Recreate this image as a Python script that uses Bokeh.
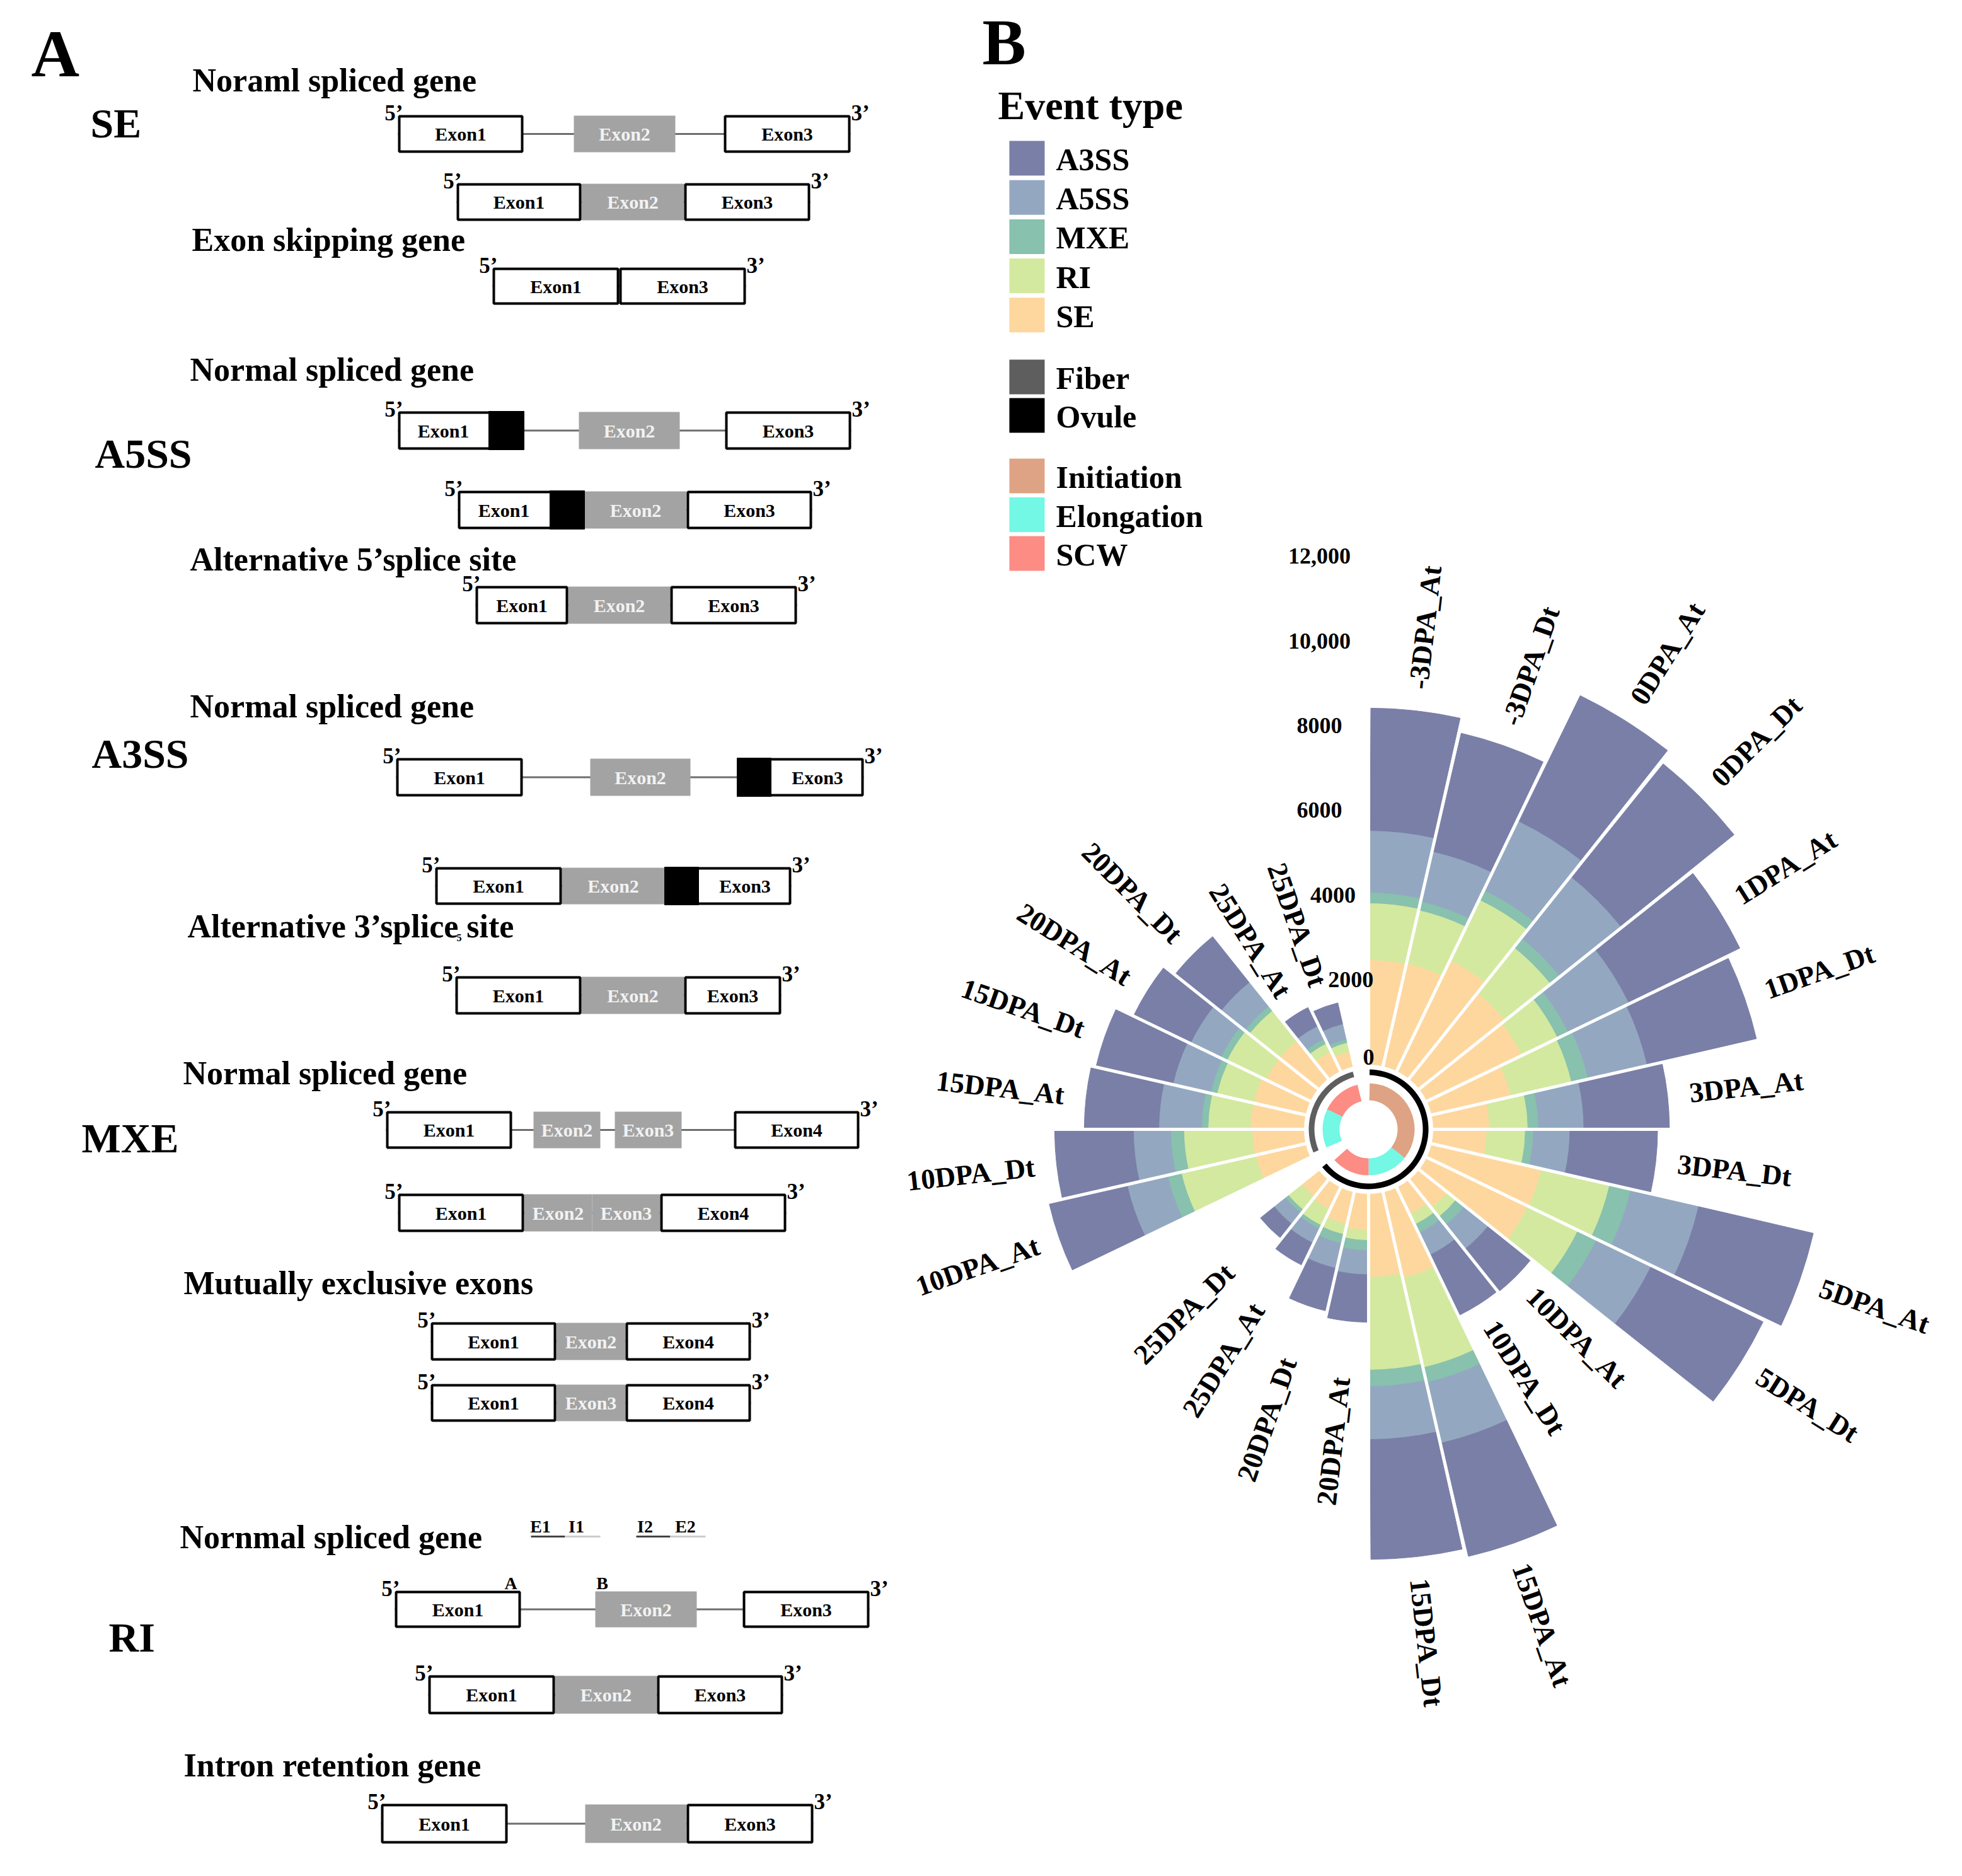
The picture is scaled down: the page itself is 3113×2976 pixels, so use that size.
import math
from bokeh.plotting import figure
from bokeh.models import Range1d
from bokeh.embed import file_html
from bokeh.resources import INLINE
from bokeh.core.properties import value

# ================= Panel B data =================
ovule_samples = ["-3DPA_At", "-3DPA_Dt", "0DPA_At", "0DPA_Dt", "1DPA_At", "1DPA_Dt",
                 "3DPA_At", "3DPA_Dt", "5DPA_At", "5DPA_Dt", "10DPA_At", "10DPA_Dt",
                 "15DPA_At", "15DPA_Dt", "20DPA_At", "20DPA_Dt", "25DPA_At", "25DPA_Dt"]
fiber_samples = ["10DPA_At", "10DPA_Dt", "15DPA_At", "15DPA_Dt",
                 "20DPA_At", "20DPA_Dt", "25DPA_At", "25DPA_Dt"]

se_ovule = [2470, 2490, 2900, 2590, 2490, 1920, 1320, 1260, 2660, 2650, 850, 700, 2070, 1960, 850, 770, 570, 510]
ri_ovule = [1340, 1290, 1590, 1380, 940, 1470, 910, 910, 1650, 1310, 270, 270, 2170, 2190, 240, 250, 430, 410]
mxe_ovule = [250, 210, 250, 280, 280, 400, 250, 190, 510, 490, 250, 220, 360, 390, 240, 220, 90, 90]
a5ss_ovule = [1460, 1210, 1820, 1860, 1590, 1430, 1070, 860, 1650, 1430, 730, 580, 1470, 1250, 570, 600, 370, 340]
a3ss_ovule = [2890, 2870, 3300, 3440, 2920, 2650, 2020, 2070, 2780, 2950, 1280, 1580, 2750, 2830, 1120, 1030, 580, 420]

se_fiber = [1210, 1220, 1260, 1260, 1160, 1160, 510, 360]
ri_fiber = [1800, 1610, 1000, 890, 1030, 920, 220, 220]
mxe_fiber = [330, 310, 150, 150, 160, 130, 120, 80]
a5ss_fiber = [980, 880, 1010, 910, 790, 730, 340, 370]
a3ss_fiber = [1890, 1860, 1760, 1860, 1490, 1380, 490, 510]

radial_ticks = [0, 2000, 4000, 6000, 8000, 10000, 12000]
radial_tick_labels = ["0", "2000", "4000", "6000", "8000", "10,000", "12,000"]

event_types = ["A3SS", "A5SS", "MXE", "RI", "SE"]
tissues = ["Fiber", "Ovule"]
stages = ["Initiation", "Elongation", "SCW"]
stage_dpa = {"Initiation": ["-3", "0", "1", "3", "5"], "Elongation": ["10", "15"], "SCW": ["20", "25"]}

# ================= Panel A content (schematic) =================
left_labels = [("SE", 151, 222), ("A5SS", 158, 746), ("A3SS", 153, 1222), ("MXE", 137, 1832), ("RI", 180, 2624)]
headings = [("Noraml spliced gene", 313, 150), ("Exon skipping gene", 312, 403),
            ("Normal spliced gene", 309, 609), ("Alternative 5\u2019splice site", 309, 910),
            ("Normal spliced gene", 309, 1143), ("Alternative 3\u2019splice site", 305, 1492),
            ("Normal spliced gene", 298, 1725), ("Mutually exclusive exons", 299, 2058),
            ("Nornmal spliced gene", 293, 2461), ("Intron retention gene", 299, 2823)]
# rows: (top, bottom, [(x0, x1, kind, label, optional black block)])
gene_rows = [
    (190, 250, [(639, 838, "w", "Exon1"), (918, 1079, "g", "Exon2"), (1156, 1357, "w", "Exon3")]),
    (298, 358, [(732, 930, "w", "Exon1"), (930, 1093, "g", "Exon2"), (1093, 1293, "w", "Exon3")]),
    (432, 491, [(789, 990, "w", "Exon1"), (990, 1191, "w", "Exon3")]),
    (660, 721, [(639, 839, "w", "Exon1", (783, 839)), (926, 1086, "g", "Exon2"), (1158, 1358, "w", "Exon3")]),
    (786, 847, [(734, 935, "w", "Exon1", (880, 935)), (935, 1097, "g", "Exon2"), (1097, 1296, "w", "Exon3")]),
    (937, 998, [(762, 909, "w", "Exon1"), (909, 1071, "g", "Exon2"), (1071, 1272, "w", "Exon3")]),
    (1210, 1271, [(636, 837, "w", "Exon1"), (944, 1103, "g", "Exon2"), (1177, 1378, "w", "Exon3", (1177, 1231))]),
    (1383, 1443, [(698, 899, "w", "Exon1"), (899, 1062, "g", "Exon2"), (1062, 1263, "w", "Exon3", (1062, 1116))]),
    (1556, 1617, [(730, 930, "w", "Exon1"), (930, 1093, "g", "Exon2"), (1093, 1247, "w", "Exon3")]),
    (1770, 1830, [(620, 820, "w", "Exon1"), (854, 960, "g", "Exon2"), (983, 1089, "g", "Exon3"), (1172, 1371, "w", "Exon4")]),
    (1901, 1962, [(639, 839, "w", "Exon1"), (839, 947, "g", "Exon2"), (947, 1055, "g", "Exon3"), (1055, 1255, "w", "Exon4")]),
    (2105, 2166, [(691, 890, "w", "Exon1"), (890, 1000, "g", "Exon2"), (1000, 1199, "w", "Exon4")]),
    (2203, 2263, [(691, 890, "w", "Exon1"), (890, 1000, "g", "Exon3"), (1000, 1199, "w", "Exon4")]),
    (2531, 2590, [(634, 834, "w", "Exon1"), (952, 1113, "g", "Exon2"), (1186, 1387, "w", "Exon3")]),
    (2665, 2727, [(687, 888, "w", "Exon1"), (888, 1050, "g", "Exon2"), (1050, 1250, "w", "Exon3")]),
    (2869, 2932, [(612, 813, "w", "Exon1"), (936, 1097, "g", "Exon2"), (1097, 1298, "w", "Exon3")]),
]

# ================= figure =================
H = 2976
FONT = value("Liberation Serif")


def Yd(y):
    return H - y


p = figure(width=3097, height=2960, x_range=Range1d(8, 3105), y_range=Range1d(8, 2968),
           output_backend="svg", toolbar_location=None, min_border=0,
           x_axis_location=None, y_axis_location=None)
p.grid.visible = False
p.outline_line_color = None
p.background_fill_color = "white"


def txt(xs, ys, texts, size, align="left", baseline="alphabetic", color="black", angles=None, bold=True):
    if angles is None:
        angles = [0] * len(xs)
    if baseline == "alphabetic":
        ys = [y + 0.29 * size for y in ys]
        baseline = "middle"
    p.text(x=xs, y=ys, text=texts, angle=angles, text_font=FONT, text_font_size=f"{size}px",
           text_font_style="bold" if bold else "normal", text_align=align,
           text_baseline=baseline, text_color=color)


# ---------------- Panel A ----------------
txt([57], [Yd(124)], ["A"], 106)
txt([l[1] for l in left_labels], [Yd(l[2]) for l in left_labels], [l[0] for l in left_labels], 66)
txt([h[1] for h in headings], [Yd(h[2]) for h in headings], [h[0] for h in headings], 52)
txt([732], [Yd(1500)], ["5"], 16)

GRAY = "#a3a3a3"
lx0, lx1, ly = [], [], []
gq = dict(l=[], r=[], t=[], b=[])
wq = dict(l=[], r=[], t=[], b=[])
kq = dict(l=[], r=[], t=[], b=[])
tb = dict(x=[], y=[], t=[])
tw = dict(x=[], y=[], t=[])
p5 = dict(x=[], y=[])
p3 = dict(x=[], y=[])
for (yt, yb, segs) in gene_rows:
    ym = (yt + yb) / 2
    lx0.append(segs[0][0]); lx1.append(segs[-1][1]); ly.append(Yd(ym))
    for seg in segs:
        x0, x1, kind, label = seg[:4]
        if kind == "g":
            gq["l"].append(x0); gq["r"].append(x1); gq["t"].append(Yd(yt + 1)); gq["b"].append(Yd(yb - 1))
            tw["x"].append((x0 + x1) / 2); tw["y"].append(Yd(ym)); tw["t"].append(label)
        else:
            wq["l"].append(x0 + 2); wq["r"].append(x1 - 2); wq["t"].append(Yd(yt + 2)); wq["b"].append(Yd(yb - 2))
            cx0, cx1 = x0, x1
            if len(seg) > 4:
                k0, k1 = seg[4]
                kq["l"].append(k0); kq["r"].append(k1); kq["t"].append(Yd(yt)); kq["b"].append(Yd(yb))
                if k0 <= x0 + 5:
                    cx0 = k1
                else:
                    cx1 = k0
            tb["x"].append((cx0 + cx1) / 2); tb["y"].append(Yd(ym)); tb["t"].append(label)
    p5["x"].append(segs[0][0] + 8); p5["y"].append(Yd(yt + 7))
    p3["x"].append(segs[-1][1] + 1); p3["y"].append(Yd(yt + 7))

p.segment(x0=lx0, y0=ly, x1=lx1, y1=ly, line_color="#6e6e6e", line_width=3)
p.quad(left=gq["l"], right=gq["r"], top=gq["t"], bottom=gq["b"], fill_color=GRAY, line_color=None)
p.quad(left=wq["l"], right=wq["r"], top=wq["t"], bottom=wq["b"], fill_color="white", line_color="black", line_width=4)
p.quad(left=kq["l"], right=kq["r"], top=kq["t"], bottom=kq["b"], fill_color="black", line_color="black", line_width=1)
txt(tb["x"], tb["y"], tb["t"], 30, align="center", baseline="middle")
txt(tw["x"], tw["y"], tw["t"], 30, align="center", baseline="middle", color="#f2f2f2")
txt(p5["x"], p5["y"], ["5\u2019"] * len(p5["x"]), 35, align="right")
txt(p3["x"], p3["y"], ["3\u2019"] * len(p3["x"]), 35, align="left")

# RI extra annotations
txt([818, 963], [Yd(2527), Yd(2527)], ["A", "B"], 28, align="center")
txt([865, 922, 1031, 1095], [Yd(2437)] * 4, ["E1", "I1", "I2", "E2"], 28, align="center")
p.segment(x0=[850, 1017], y0=[Yd(2445)] * 2, x1=[904, 1071], y1=[Yd(2445)] * 2, line_color="#444444", line_width=3)
p.segment(x0=[904, 1071], y0=[Yd(2445)] * 2, x1=[960, 1127], y1=[Yd(2445)] * 2, line_color="#cccccc", line_width=3)

# ---------------- Panel B ----------------
txt([1566], [Yd(104)], ["B"], 104)
txt([1591], [Yd(194)], ["Event type"], 64)

type_colors = {"A3SS": "#7a7fa7", "A5SS": "#93a8c0", "MXE": "#88c1ad", "RI": "#d3e9a0", "SE": "#fed79e"}
tissue_colors = {"Fiber": "#5e5e5e", "Ovule": "#000000"}
stage_colors = {"Initiation": "#dea384", "Elongation": "#72f8e5", "SCW": "#fc8c84"}

leg_items = ([(t, type_colors[t], 231 + 62.2 * i) for i, t in enumerate(event_types)] +
             [(t, tissue_colors[t], 578 + 61 * i) for i, t in enumerate(tissues)] +
             [(t, stage_colors[t], 735 + 61.5 * i) for i, t in enumerate(stages)])
p.quad(left=[1609] * len(leg_items), right=[1665] * len(leg_items),
       top=[Yd(it[2]) for it in leg_items], bottom=[Yd(it[2] + 55) for it in leg_items],
       fill_color=[it[1] for it in leg_items], line_color=None)
txt([1683] * len(leg_items), [Yd(it[2] + 44) for it in leg_items], [it[0] for it in leg_items], 50)

# radial bar chart
CX, CY = 2179, 1799
CYD = Yd(CY)
R0, K = 103, 0.0672
N_SLOTS = 28
W = 360.0 / N_SLOTS
PAD = 0.3

samples = ovule_samples + fiber_samples
tissue_of = ["Ovule"] * len(ovule_samples) + ["Fiber"] * len(fiber_samples)
stack_order = ["SE", "RI", "MXE", "A5SS", "A3SS"]
stack = {"SE": se_ovule + se_fiber, "RI": ri_ovule + ri_fiber, "MXE": mxe_ovule + mxe_fiber,
         "A5SS": a5ss_ovule + a5ss_fiber, "A3SS": a3ss_ovule + a3ss_fiber}
slots = list(range(len(ovule_samples))) + [len(ovule_samples) + 1 + i for i in range(len(fiber_samples))]


def rad(v):
    return R0 + K * v


wx, wy, wri, wro, wsa, wea, wc = [], [], [], [], [], [], []
tops = []
for i, s in enumerate(slots):
    cum = 0
    b1 = s * W + PAD
    b2 = (s + 1) * W - PAD
    for t in stack_order:
        v = stack[t][i]
        wri.append(rad(cum))
        cum += v
        wro.append(rad(cum))
        wsa.append(math.radians(90 - b2)); wea.append(math.radians(90 - b1))
        wc.append(type_colors[t]); wx.append(CX); wy.append(CYD)
    tops.append(rad(cum))
p.annular_wedge(x=wx, y=wy, inner_radius=wri, outer_radius=wro, start_angle=wsa, end_angle=wea,
                fill_color=wc, line_color=wc, line_width=1)

# white separators between slots
slot_top = {s: tops[i] for i, s in enumerate(slots)}
sx0, sy0, sx1, sy1 = [], [], [], []
for k in range(N_SLOTS):
    rmax = max(slot_top.get(k, 0), slot_top.get((k - 1) % N_SLOTS, 0))
    if rmax == 0:
        continue
    b = math.radians(k * W)
    sx0.append(CX + 99 * math.sin(b)); sy0.append(CYD + 99 * math.cos(b))
    sx1.append(CX + (rmax + 15) * math.sin(b)); sy1.append(CYD + (rmax + 15) * math.cos(b))
p.segment(x0=sx0, y0=sy0, x1=sx1, y1=sy1, line_color="white", line_width=5)

# inner rings: tissue arcs and stage ring
ax, ay, ari, aro, asa, aea, ac = [], [], [], [], [], [], []


def arc(b1, b2, r1, r2, color):
    ax.append(CX); ay.append(CYD); ari.append(r1); aro.append(r2)
    asa.append(math.radians(90 - b2)); aea.append(math.radians(90 - b1)); ac.append(color)


def stage_of(name):
    d = name.split("DPA")[0]
    for st in stages:
        if d in stage_dpa[st]:
            return st


tissue_pad = {"Ovule": (1.0, 0.6), "Fiber": (3.0, 2.5)}
ring_pad = {"Ovule": (1.4, 3.4), "Fiber": (2.5, 1.2)}
for tis in ["Ovule", "Fiber"]:
    idx = [i for i in range(len(samples)) if tissue_of[i] == tis]
    s_first, s_last = slots[idx[0]], slots[idx[-1]]
    arc(s_first * W + tissue_pad[tis][0], (s_last + 1) * W - tissue_pad[tis][1], 86, 95, tissue_colors[tis])
    runs = []
    for i in idx:
        st = stage_of(samples[i])
        if runs and runs[-1][0] == st:
            runs[-1][2] = slots[i]
        else:
            runs.append([st, slots[i], slots[i]])
    for j, (st, a, b) in enumerate(runs):
        b1 = a * W + (ring_pad[tis][0] if j == 0 else 0)
        b2 = (b + 1) * W - (ring_pad[tis][1] if j == len(runs) - 1 else 0)
        arc(b1, b2, 46, 73, stage_colors[st])
p.annular_wedge(x=ax, y=ay, inner_radius=ari, outer_radius=aro, start_angle=asa, end_angle=aea,
                fill_color=ac, line_color=None)

# radial tick labels
tkx, tky = [], []
for v in radial_ticks:
    r = rad(v)
    off = min(78, 0.21 * (r - R0))
    tkx.append(CX - off)
    tky.append(CYD + max(r, 115))
txt(tkx, tky, radial_tick_labels, 36, align="center", baseline="middle")

# category labels
rx, ry, rt, ra = [], [], [], []
lx, ly2, lt, la = [], [], [], []
for i, s in enumerate(slots):
    bc = (s + 0.5) * W
    d = int(samples[i].split("DPA")[0])
    gap = 35 + (55 if (tissue_of[i] == "Ovule" and d >= 20) else 0)
    r = tops[i] + gap
    x = CX + r * math.sin(math.radians(bc))
    y = CYD + r * math.cos(math.radians(bc))
    if bc < 180:
        rx.append(x); ry.append(y); rt.append(samples[i]); ra.append(math.radians(90 - bc))
    else:
        lx.append(x); ly2.append(y); lt.append(samples[i]); la.append(math.radians(270 - bc))
txt(rx, ry, rt, 45, align="left", baseline="middle", angles=ra)
txt(lx, ly2, lt, 45, align="right", baseline="middle", angles=la)

open("out.html", "w").write(file_html(p, INLINE))
